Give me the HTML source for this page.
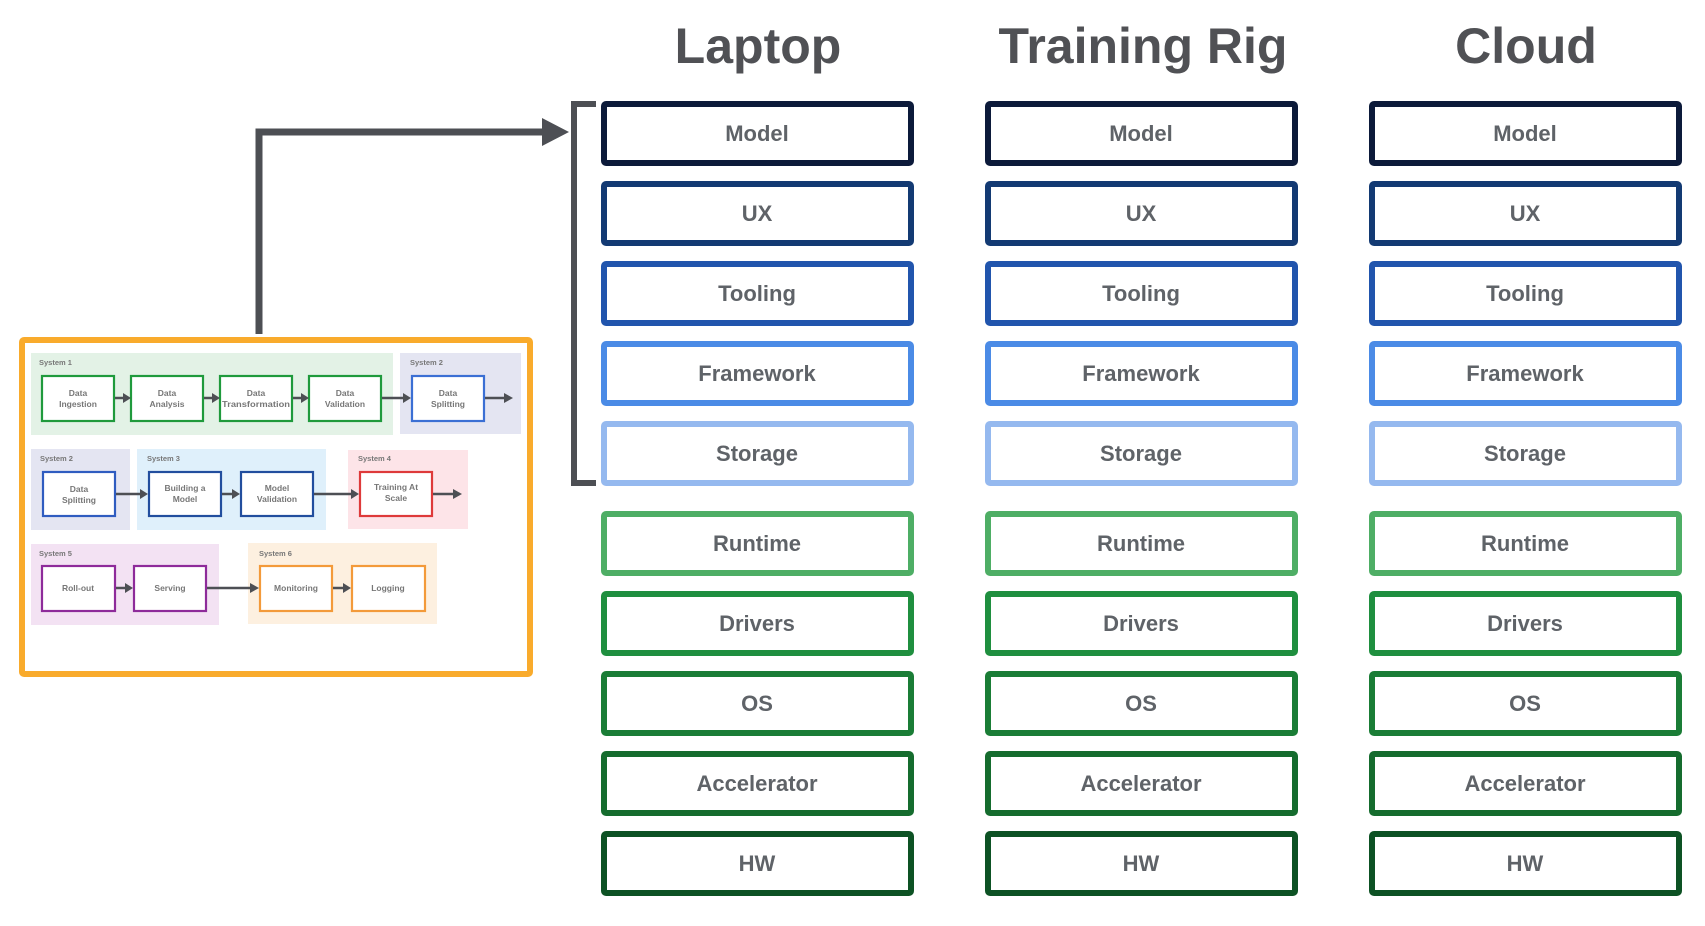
<!DOCTYPE html>
<html><head><meta charset="utf-8"><style>
html,body{margin:0;padding:0;background:#fff;}
svg{display:block;font-family:"Liberation Sans",sans-serif;}
</style></head><body>
<svg width="1705" height="926" viewBox="0 0 1705 926" xmlns="http://www.w3.org/2000/svg">
<rect width="1705" height="926" fill="#fff"/>
<!-- titles -->
<g font-size="50" font-weight="bold" fill="#505155" text-anchor="middle">
<text x="758" y="63">Laptop</text>
<text x="1143" y="63">Training Rig</text>
<text x="1526" y="63">Cloud</text>
</g>
<!-- stacks -->
<g font-size="22" font-weight="bold" fill="#5f6368" text-anchor="middle">
<g id="col">
<rect x="604" y="104" width="307" height="59" fill="none" stroke="#0c1a3a" stroke-width="6" rx="2"/>
<text x="757" y="141">Model</text>
<rect x="604" y="184" width="307" height="59" fill="none" stroke="#133a73" stroke-width="6" rx="2"/>
<text x="757" y="221">UX</text>
<rect x="604" y="264" width="307" height="59" fill="none" stroke="#2155ad" stroke-width="6" rx="2"/>
<text x="757" y="301">Tooling</text>
<rect x="604" y="344" width="307" height="59" fill="none" stroke="#4b8be6" stroke-width="6" rx="2"/>
<text x="757" y="381">Framework</text>
<rect x="604" y="424" width="307" height="59" fill="none" stroke="#95b9ef" stroke-width="6" rx="2"/>
<text x="757" y="461">Storage</text>
<rect x="604" y="514" width="307" height="59" fill="none" stroke="#4eae65" stroke-width="6" rx="2"/>
<text x="757" y="551">Runtime</text>
<rect x="604" y="594" width="307" height="59" fill="none" stroke="#1f8f3f" stroke-width="6" rx="2"/>
<text x="757" y="631">Drivers</text>
<rect x="604" y="674" width="307" height="59" fill="none" stroke="#1a7d36" stroke-width="6" rx="2"/>
<text x="757" y="711">OS</text>
<rect x="604" y="754" width="307" height="59" fill="none" stroke="#156c2e" stroke-width="6" rx="2"/>
<text x="757" y="791">Accelerator</text>
<rect x="604" y="834" width="307" height="59" fill="none" stroke="#0d5224" stroke-width="6" rx="2"/>
<text x="757" y="871">HW</text>
</g>
<use href="#col" x="384"/>
<use href="#col" x="768"/>
</g>
<!-- bracket -->
<path d="M596 104 H574 V483 H596" fill="none" stroke="#4d4f54" stroke-width="6"/>
<!-- arrow -->
<path d="M259 334 V132 H545" fill="none" stroke="#4d4f54" stroke-width="7"/>
<polygon points="542,118 569,132 542,146" fill="#4d4f54"/>
<!-- left diagram -->
<rect x="22" y="340" width="508" height="334" fill="#fff" stroke="#f9ab2c" stroke-width="6" rx="2"/>
<g>
<rect x="31" y="353" width="362" height="82" fill="#e3f2e6"/>
<rect x="400" y="353" width="121" height="81" fill="#e4e5f2"/>
<rect x="31" y="449" width="99" height="81" fill="#e4e5f2"/>
<rect x="137" y="449" width="189" height="81" fill="#dff0fb"/>
<rect x="348" y="450" width="120" height="79" fill="#fde4e8"/>
<rect x="31" y="544" width="188" height="81" fill="#f3e2f3"/>
<rect x="248" y="543" width="189" height="81" fill="#fdf0e0"/>
</g>
<g font-size="7.5" font-weight="bold" fill="#777">
<text x="39" y="365">System 1</text>
<text x="410" y="365">System 2</text>
<text x="40" y="461">System 2</text>
<text x="147" y="461">System 3</text>
<text x="358" y="461">System 4</text>
<text x="39" y="556">System 5</text>
<text x="259" y="556">System 6</text>
</g>
<g fill="#fff" stroke-width="2.2">
<rect x="42" y="376" width="72" height="45" stroke="#1f9a3c"/>
<rect x="131" y="376" width="72" height="45" stroke="#1f9a3c"/>
<rect x="220" y="376" width="72" height="45" stroke="#1f9a3c"/>
<rect x="309" y="376" width="72" height="45" stroke="#1f9a3c"/>
<rect x="412" y="376" width="72" height="45" stroke="#3b6fd4"/>
<rect x="43" y="472" width="72" height="44" stroke="#2f5cc0"/>
<rect x="149" y="472" width="72" height="44" stroke="#224e9e"/>
<rect x="241" y="472" width="72" height="44" stroke="#224e9e"/>
<rect x="360" y="472" width="72" height="44" stroke="#de3a3a"/>
<rect x="42" y="566" width="73" height="45" stroke="#8e2b9a"/>
<rect x="134" y="566" width="72" height="45" stroke="#8e2b9a"/>
<rect x="260" y="566" width="72" height="45" stroke="#f39a3a"/>
<rect x="352" y="566" width="73" height="45" stroke="#f39a3a"/>
</g>
<g font-size="8.5" font-weight="bold" fill="#777" text-anchor="middle">
<text x="78" y="396">Data</text><text x="78" y="407">Ingestion</text>
<text x="167" y="396">Data</text><text x="167" y="407">Analysis</text>
<text x="256" y="396">Data</text><text x="256" y="407" textLength="68" lengthAdjust="spacingAndGlyphs">Transformation</text>
<text x="345" y="396">Data</text><text x="345" y="407">Validation</text>
<text x="448" y="396">Data</text><text x="448" y="407">Splitting</text>
<text x="79" y="492">Data</text><text x="79" y="503">Splitting</text>
<text x="185" y="491">Building a</text><text x="185" y="502">Model</text>
<text x="277" y="491">Model</text><text x="277" y="502">Validation</text>
<text x="396" y="490">Training At</text><text x="396" y="501">Scale</text>
<text x="78" y="591">Roll-out</text>
<text x="170" y="591">Serving</text>
<text x="296" y="591">Monitoring</text>
<text x="388" y="591">Logging</text>
</g>
<g stroke="#4d4f54" stroke-width="2.5" fill="#4d4f54">
<line x1="115" y1="398" x2="124" y2="398"/><polygon points="123,393 131,398 123,403" stroke="none"/>
<line x1="204" y1="398" x2="213" y2="398"/><polygon points="212,393 220,398 212,403" stroke="none"/>
<line x1="293" y1="398" x2="302" y2="398"/><polygon points="301,393 309,398 301,403" stroke="none"/>
<line x1="382" y1="398" x2="404" y2="398"/><polygon points="403,393 411,398 403,403" stroke="none"/>
<line x1="485" y1="398" x2="505" y2="398"/><polygon points="504,393 513,398 504,403" stroke="none"/>
<line x1="116" y1="494" x2="141" y2="494"/><polygon points="140,489 148,494 140,499" stroke="none"/>
<line x1="222" y1="494" x2="233" y2="494"/><polygon points="232,489 240,494 232,499" stroke="none"/>
<line x1="314" y1="494" x2="352" y2="494"/><polygon points="351,489 359,494 351,499" stroke="none"/>
<line x1="433" y1="494" x2="454" y2="494"/><polygon points="453,489 462,494 453,499" stroke="none"/>
<line x1="116" y1="588" x2="126" y2="588"/><polygon points="125,583 133,588 125,593" stroke="none"/>
<line x1="207" y1="588" x2="251" y2="588"/><polygon points="250,583 259,588 250,593" stroke="none"/>
<line x1="333" y1="588" x2="344" y2="588"/><polygon points="343,583 351,588 343,593" stroke="none"/>
</g>
</svg>
</body></html>
